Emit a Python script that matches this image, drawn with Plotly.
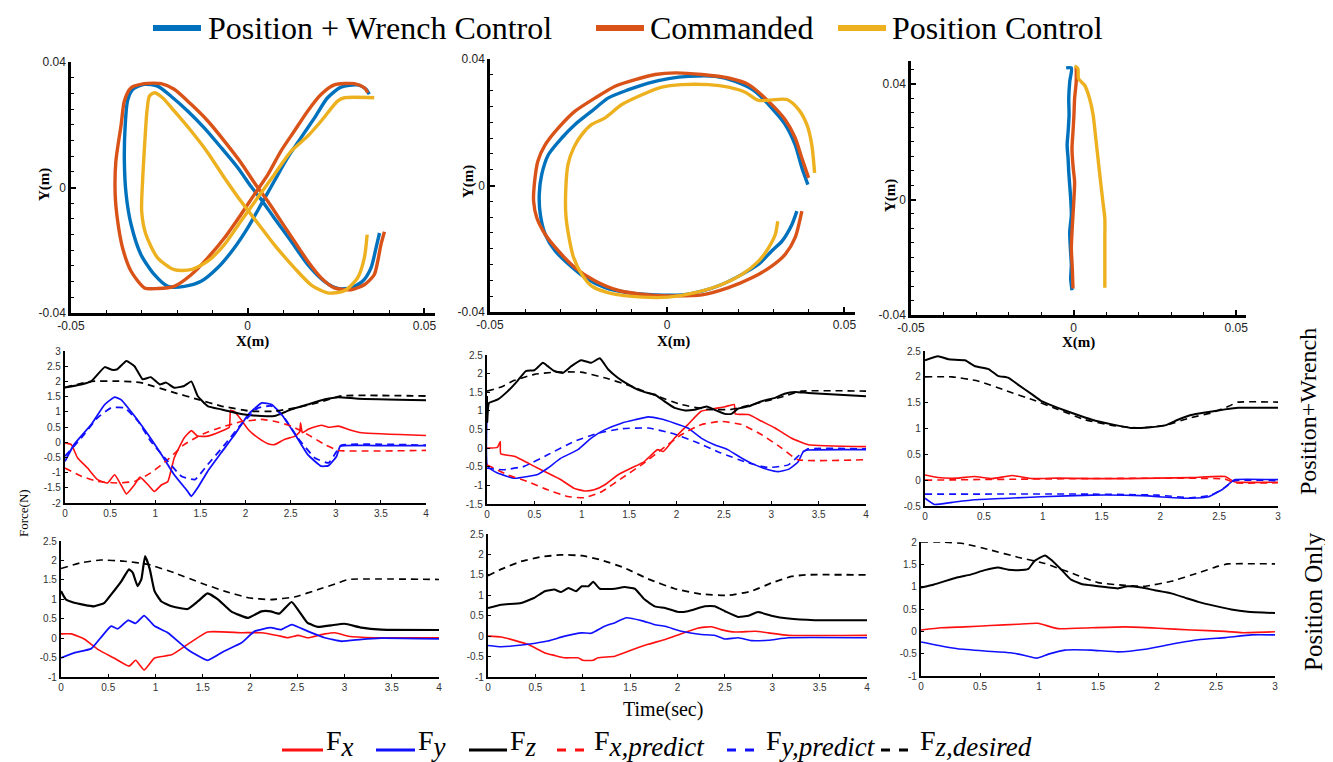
import plotly.graph_objects as go

# ---------------- Top row: trajectories (values in mm) ----------------
# Figure-eight
f8_wrench_x = [37.3, 36.3, 34.9, 32.5, 29.2, 25.5, 21.7, 17.0, 12.3, 7.5, 3.8, 0.9, -2.8, -7.5, -12.3, -17.0, -21.7, -25.5, -29.2, -32.5, -34.0, -34.7, -34.9, -34.4, -33.0, -30.2, -26.4, -22.6, -17.9, -13.2, -8.5, -3.8, 0.0, 3.8, 7.5, 11.3, 15.1, 18.9, 22.6, 26.4, 31.1, 33.5, 34.4]
f8_wrench_y = [-14.5, -19.3, -25.6, -29.9, -32.0, -32.2, -29.9, -24.6, -17.1, -9.7, -3.8, 0.4, 6.3, 12.7, 19.0, 24.4, 29.1, 32.3, 32.9, 31.3, 27.6, 19.0, 8.4, -2.2, -11.8, -21.4, -27.8, -31.5, -31.5, -29.9, -25.6, -19.3, -12.9, -5.4, 2.0, 9.5, 15.9, 22.2, 28.6, 32.0, 32.7, 31.3, 29.7]
f8_cmd_x = [38.7, 37.7, 36.8, 35.8, 33.0, 29.2, 24.5, 20.8, 17.0, 13.2, 9.4, 5.7, 1.9, -1.9, -6.6, -11.3, -16.0, -20.8, -24.5, -29.2, -33.0, -34.9, -35.8, -37.3, -37.5, -36.8, -35.4, -33.0, -29.2, -25.5, -20.8, -16.0, -11.3, -6.6, -1.9, 1.9, 5.7, 9.4, 13.2, 17.0, 20.8, 24.5, 30.2, 33.0, 34.0]
f8_cmd_y = [-14.1, -18.2, -23.5, -27.8, -31.0, -32.6, -32.0, -28.8, -23.5, -17.1, -10.7, -4.4, 1.5, 7.9, 14.8, 21.2, 26.5, 31.3, 33.1, 33.1, 31.8, 27.6, 20.1, 8.4, -2.2, -10.7, -19.3, -26.7, -32.0, -32.2, -31.5, -27.8, -22.4, -16.1, -8.6, -2.2, 4.1, 11.6, 18.0, 24.4, 29.7, 32.7, 33.1, 31.8, 30.2]
f8_pos_x = [33.8, 33.0, 31.1, 27.4, 22.6, 17.9, 13.2, 7.5, 2.8, -1.9, -6.6, -11.3, -16.0, -20.8, -24.1, -26.4, -27.8, -28.5, -29.1, -29.7, -30.0, -28.8, -25.5, -20.8, -16.0, -11.3, -6.6, -1.9, 2.8, 7.5, 12.3, 17.0, 20.8, 25.5, 27.4, 35.8]
f8_pos_y = [-15.0, -22.4, -28.8, -32.9, -33.6, -31.0, -25.6, -18.2, -11.3, -4.4, 3.1, 11.1, 18.0, 24.4, 28.6, 30.2, 29.1, 24.4, 14.8, 3.1, -7.6, -15.0, -22.4, -26.2, -26.2, -23.5, -18.2, -10.7, -3.3, 4.1, 11.6, 16.4, 21.2, 27.6, 28.6, 28.6]

# Circle
circ_wrench_x = [39.7, 38.0, 36.1, 33.3, 29.5, 24.8, 19.2, 13.5, 6.0, 0.4, -5.3, -10.9, -16.6, -21.3, -26.0, -29.7, -33.5, -35.4, -36.1, -35.8, -34.4, -31.6, -27.8, -23.1, -17.5, -10.9, -3.4, 4.1, 9.8, 15.4, 21.1, 25.8, 29.5, 32.4, 35.2, 36.6]
circ_wrench_y = [0.3, 5.6, 12.9, 19.3, 24.5, 29.8, 32.9, 34.5, 34.5, 33.8, 32.4, 30.3, 27.7, 23.5, 19.3, 15.1, 9.8, 3.5, -2.8, -9.2, -15.5, -20.7, -24.9, -29.2, -32.3, -33.9, -34.6, -34.6, -33.4, -31.3, -28.1, -24.9, -20.7, -17.6, -12.3, -8.1]
circ_cmd_x = [39.9, 38.0, 36.1, 33.3, 28.6, 23.0, 17.3, 9.8, 2.3, -3.4, -9.0, -14.7, -20.3, -26.0, -30.7, -34.4, -36.5, -37.4, -37.7, -36.8, -34.4, -30.7, -26.0, -20.3, -13.7, -5.3, 2.3, 9.8, 17.3, 23.9, 29.5, 33.3, 36.1, 38.0]
circ_cmd_y = [2.4, 8.7, 15.1, 20.8, 26.6, 31.9, 34.0, 35.1, 35.6, 35.1, 33.5, 31.4, 27.7, 23.5, 18.2, 12.9, 7.7, 1.4, -4.9, -10.2, -15.5, -20.7, -26.0, -30.2, -33.2, -34.6, -34.9, -34.6, -32.3, -29.2, -25.5, -21.8, -16.5, -8.1]
circ_pos_x = [41.6, 40.8, 39.4, 37.1, 33.8, 25.8, 22.0, 17.3, 11.7, 4.1, -1.5, -7.1, -12.8, -17.5, -21.3, -24.1, -26.4, -28.0, -28.6, -28.6, -27.7, -26.4, -24.1, -21.3, -15.6, -7.1, 0.4, 7.9, 15.4, 21.1, 25.8, 28.6, 30.5, 31.2]
circ_pos_y = [4.0, 12.9, 19.3, 24.0, 27.2, 26.9, 29.5, 31.1, 31.9, 31.9, 31.1, 28.7, 25.6, 21.4, 19.3, 16.1, 11.9, 6.6, -0.7, -9.2, -16.5, -22.8, -28.1, -31.8, -34.2, -35.3, -35.3, -33.9, -31.3, -28.1, -23.9, -19.7, -15.5, -11.3]

# Straight line
line_wrench_x = [-2.3, -0.7, -1.2, -1.5, -1.4, -1.7, -2.0, -1.7, -1.5, -1.2, -0.9, -0.7, -1.2, -1.0, -0.7, -0.9, -0.5]
line_wrench_y = [45.6, 45.6, 40.8, 35.0, 29.3, 23.4, 18.8, 14.2, 9.6, 4.9, 0.3, -5.4, -11.2, -17.0, -22.7, -27.4, -31.4]
line_cmd_x = [0.8, 0.8, 0.3, 0.1, -0.2, -0.5, -0.2, 0.3, 0.1, -0.2, -0.5, -0.7, -0.4, -0.2]
line_cmd_y = [45.9, 40.8, 35.0, 29.3, 23.4, 17.7, 11.8, 6.1, 0.3, -5.4, -11.2, -17.0, -23.9, -30.8]
line_pos_x = [0.3, 1.3, 1.5, 3.4, 4.9, 6.0, 6.7, 7.5, 8.3, 9.0, 9.6, 9.6, 9.6, 9.6, 9.6]
line_pos_y = [46.3, 45.4, 41.9, 39.6, 35.0, 29.3, 22.4, 14.2, 6.1, -0.8, -6.6, -13.5, -19.3, -26.2, -30.6]

traj_names = ["Position + Wrench Control", "Commanded", "Position Control"]

# ---------------- Middle row: Position+Wrench forces (N) ----------------
w8_t_fx = [0, 0.07, 0.14, 0.25, 0.36, 0.47, 0.55, 0.62, 0.68, 0.77, 0.83, 0.92, 0.99, 1.07, 1.14, 1.21, 1.32, 1.40, 1.47, 1.58, 1.73, 1.82, 1.835, 1.88, 1.95, 2.03, 2.14, 2.25, 2.32, 2.43, 2.55, 2.60, 2.61, 2.63, 2.69, 2.84, 2.92, 3.03, 3.14, 3.29, 4.0]
w8_fx = [-0.02, -0.08, -0.52, -0.85, -1.23, -1.34, -1.07, -1.40, -1.70, -1.40, -1.15, -1.40, -1.62, -1.40, -1.29, -0.52, 0.14, 0.38, 0.20, 0.20, 0.36, 0.49, 1.05, 1.00, 0.75, 0.42, 0.14, -0.05, -0.08, 0.09, 0.20, 0.34, 0.64, 0.31, 0.42, 0.56, 0.49, 0.53, 0.42, 0.31, 0.22]
w8_t_fy = [0, 0.1, 0.29, 0.44, 0.55, 0.62, 0.77, 0.92, 1.07, 1.21, 1.36, 1.40, 1.47, 1.58, 1.73, 1.88, 2.03, 2.18, 2.29, 2.40, 2.55, 2.69, 2.84, 2.92, 3.01, 3.05, 3.43, 4.0]
w8_fy = [-0.63, -0.08, 0.58, 1.24, 1.48, 1.40, 0.86, 0.25, -0.41, -1.07, -1.62, -1.78, -1.50, -0.96, -0.35, 0.25, 0.91, 1.29, 1.24, 0.91, 0.25, -0.41, -0.79, -0.77, -0.46, -0.13, -0.11, -0.11]
w8_t_fz = [0, 0.18, 0.29, 0.44, 0.52, 0.58, 0.68, 0.77, 0.86, 0.95, 1.05, 1.12, 1.21, 1.32, 1.40, 1.47, 1.58, 1.73, 1.95, 2.18, 2.32, 2.51, 2.69, 2.88, 3.03, 3.25, 4.0]
w8_fz = [1.80, 1.90, 2.00, 2.47, 2.38, 2.40, 2.67, 2.50, 2.07, 2.14, 1.90, 1.96, 1.79, 1.85, 2.00, 1.52, 1.19, 1.08, 0.93, 0.86, 0.86, 1.08, 1.24, 1.41, 1.48, 1.43, 1.38]
w8_t_fxp = [0, 0.18, 0.36, 0.58, 0.77, 0.95, 1.14, 1.32, 1.51, 1.73, 1.95, 2.18, 2.32, 2.51, 2.69, 2.88, 3.03, 4.0]
w8_fxp = [-0.85, -1.12, -1.29, -1.34, -1.29, -1.01, -0.57, -0.08, 0.25, 0.49, 0.67, 0.75, 0.69, 0.53, 0.25, -0.08, -0.27, -0.27]
w8_t_fyp = [0, 0.18, 0.36, 0.51, 0.66, 0.81, 0.95, 1.14, 1.29, 1.44, 1.58, 1.77, 1.95, 2.14, 2.29, 2.43, 2.58, 2.77, 2.92, 3.01, 3.06, 4.0]
w8_fyp = [-0.46, 0.14, 0.80, 1.13, 1.13, 0.69, 0.03, -0.63, -1.12, -1.23, -0.74, -0.08, 0.58, 1.13, 1.19, 0.80, 0.14, -0.52, -0.68, -0.30, -0.10, -0.10]
w8_t_fzd = [0, 0.29, 0.6, 0.84, 1.21, 1.47, 1.73, 2.06, 2.32, 2.55, 2.80, 3.06, 4.0]
w8_fzd = [1.80, 2.00, 2.01, 1.96, 1.63, 1.41, 1.19, 1.02, 1.02, 1.13, 1.30, 1.52, 1.52]

wc_t_fx = [0, 0.11, 0.14, 0.145, 0.29, 0.5, 0.64, 0.78, 0.92, 1.03, 1.13, 1.24, 1.38, 1.52, 1.66, 1.80, 1.86, 1.98, 2.12, 2.26, 2.40, 2.51, 2.61, 2.62, 2.76, 2.90, 3.04, 3.21, 3.39, 4.0]
wc_fx = [0.0, 0.02, 0.18, -0.15, -0.22, -0.49, -0.67, -0.85, -1.08, -1.15, -1.12, -0.99, -0.72, -0.54, -0.36, -0.04, -0.09, 0.27, 0.63, 0.99, 1.06, 1.11, 1.17, 0.92, 0.90, 0.72, 0.54, 0.27, 0.09, 0.04]
wc_t_fy = [0, 0.005, 0.11, 0.29, 0.43, 0.54, 0.64, 0.78, 0.96, 1.10, 1.24, 1.42, 1.56, 1.70, 1.84, 1.98, 2.12, 2.26, 2.40, 2.54, 2.69, 2.83, 2.97, 3.07, 3.18, 3.28, 3.34, 3.39, 4.0]
wc_fy = [0.90, -0.49, -0.67, -0.81, -0.76, -0.70, -0.54, -0.27, -0.04, 0.27, 0.49, 0.67, 0.76, 0.84, 0.78, 0.67, 0.54, 0.27, 0.09, -0.04, -0.27, -0.45, -0.58, -0.63, -0.57, -0.38, -0.09, -0.05, -0.04]
wc_t_fz = [0, 0.002, 0.02, 0.11, 0.22, 0.32, 0.41, 0.50, 0.59, 0.64, 0.71, 0.80, 0.89, 0.99, 1.10, 1.19, 1.28, 1.38, 1.49, 1.59, 1.70, 1.77, 1.87, 1.98, 2.09, 2.19, 2.32, 2.40, 2.51, 2.58, 2.65, 2.76, 2.90, 3.04, 3.14, 3.25, 3.39, 4.0]
wc_fz = [1.40, 0.70, 1.21, 1.30, 1.53, 1.80, 2.07, 2.09, 2.29, 2.20, 2.07, 2.02, 2.20, 2.36, 2.29, 2.41, 2.11, 1.89, 1.71, 1.57, 1.48, 1.44, 1.26, 1.08, 1.01, 1.03, 1.12, 1.03, 0.92, 0.92, 1.06, 1.12, 1.26, 1.35, 1.46, 1.51, 1.48, 1.39]
wc_t_fxp = [0, 0.22, 0.43, 0.64, 0.85, 1.03, 1.21, 1.42, 1.63, 1.84, 2.05, 2.26, 2.47, 2.69, 2.90, 3.11, 3.28, 4.0]
wc_fxp = [-0.45, -0.72, -0.90, -1.12, -1.30, -1.33, -1.17, -0.81, -0.45, -0.04, 0.36, 0.63, 0.72, 0.63, 0.36, 0.0, -0.31, -0.31]
wc_t_fyp = [0, 0.18, 0.39, 0.64, 0.92, 1.17, 1.42, 1.70, 1.95, 2.19, 2.47, 2.76, 2.97, 3.18, 3.32, 3.39, 4.0]
wc_fyp = [-0.54, -0.58, -0.49, -0.18, 0.18, 0.40, 0.52, 0.54, 0.40, 0.18, -0.13, -0.40, -0.52, -0.45, -0.13, -0.02, -0.02]
wc_t_fzd = [0, 0.15, 0.29, 0.50, 0.71, 0.99, 1.24, 1.49, 1.77, 2.05, 2.33, 2.58, 2.86, 3.11, 3.32, 4.0]
wc_fzd = [1.53, 1.64, 1.82, 1.98, 2.04, 2.04, 1.89, 1.69, 1.42, 1.17, 1.04, 1.04, 1.21, 1.37, 1.53, 1.53]

wl_t_fx = [0, 0.11, 0.28, 0.42, 0.57, 0.74, 0.91, 1.13, 1.42, 1.70, 1.98, 2.26, 2.55, 2.63, 3.0]
wl_fx = [0.10, 0.05, 0.04, 0.07, 0.03, 0.09, 0.03, 0.04, 0.03, 0.03, 0.04, 0.05, 0.07, -0.03, -0.04]
wl_t_fy = [0, 0.08, 0.23, 0.42, 0.71, 0.99, 1.42, 1.84, 2.12, 2.26, 2.41, 2.52, 2.60, 2.63, 3.0]
wl_fy = [-0.35, -0.47, -0.43, -0.38, -0.35, -0.32, -0.29, -0.30, -0.34, -0.35, -0.32, -0.19, -0.04, 0.01, 0.01]
wl_t_fz = [0, 0.11, 0.20, 0.34, 0.42, 0.54, 0.62, 0.71, 0.79, 0.91, 0.99, 1.13, 1.25, 1.42, 1.59, 1.75, 1.90, 2.04, 2.15, 2.26, 2.41, 2.55, 2.66, 3.0]
wl_fz = [2.32, 2.40, 2.34, 2.32, 2.21, 2.15, 2.02, 1.98, 1.85, 1.66, 1.53, 1.40, 1.30, 1.17, 1.08, 1.01, 1.02, 1.06, 1.17, 1.26, 1.32, 1.37, 1.40, 1.40]
wl_t_fxp = [0, 2.55, 2.63, 3.0]
wl_fxp = [0.0, 0.02, -0.05, -0.05]
wl_t_fyp = [0, 1.42, 1.98, 2.26, 2.43, 2.55, 2.63, 3.0]
wl_fyp = [-0.27, -0.27, -0.29, -0.34, -0.29, -0.14, -0.01, -0.01]
wl_t_fzd = [0, 0.23, 0.45, 0.68, 0.91, 1.13, 1.36, 1.59, 1.81, 2.04, 2.26, 2.43, 2.58, 2.66, 3.0]
wl_fzd = [2.0, 2.0, 1.92, 1.74, 1.56, 1.37, 1.17, 1.06, 1.01, 1.06, 1.21, 1.30, 1.43, 1.51, 1.51]

# ---------------- Bottom row: Position-only forces (N) ----------------
p8_t_fx = [0, 0.11, 0.25, 0.39, 0.56, 0.72, 0.79, 0.88, 0.99, 1.17, 1.34, 1.55, 1.91, 2.12, 2.29, 2.40, 2.51, 2.61, 2.79, 2.90, 3.04, 3.32, 4.0]
p8_fx = [0.11, 0.11, -0.03, -0.29, -0.51, -0.72, -0.57, -0.82, -0.51, -0.43, -0.16, 0.16, 0.14, 0.14, 0.07, 0.01, 0.07, 0.01, 0.11, 0.14, 0.05, 0.01, 0.01]
p8_t_fy = [0, 0.14, 0.32, 0.42, 0.53, 0.60, 0.71, 0.79, 0.88, 0.99, 1.13, 1.34, 1.55, 1.73, 1.91, 2.05, 2.22, 2.33, 2.44, 2.61, 2.79, 2.97, 3.18, 3.39, 4.0]
p8_fy = [-0.51, -0.38, -0.27, 0.01, 0.31, 0.24, 0.46, 0.38, 0.58, 0.31, 0.14, -0.29, -0.57, -0.33, -0.12, 0.18, 0.27, 0.22, 0.35, 0.18, 0.01, -0.08, -0.03, 0.0, -0.02]
p8_t_fz = [0, 0.05, 0.14, 0.35, 0.46, 0.53, 0.64, 0.72, 0.76, 0.81, 0.85, 0.89, 0.94, 0.99, 1.06, 1.17, 1.34, 1.45, 1.55, 1.66, 1.80, 1.98, 2.12, 2.22, 2.31, 2.44, 2.52, 2.61, 2.72, 2.86, 3.00, 3.18, 3.39, 4.0]
p8_fz = [1.21, 1.00, 0.91, 0.82, 0.91, 1.12, 1.47, 1.77, 1.68, 1.34, 1.51, 2.11, 1.77, 1.21, 0.95, 0.82, 0.75, 0.95, 1.15, 1.00, 0.69, 0.52, 0.69, 0.69, 0.63, 0.93, 0.69, 0.39, 0.29, 0.33, 0.37, 0.27, 0.22, 0.21]
p8_t_fzd = [0, 0.21, 0.42, 0.67, 0.92, 1.20, 1.48, 1.73, 1.98, 2.22, 2.47, 2.72, 2.93, 3.04, 4.0]
p8_fzd = [1.79, 1.94, 2.01, 1.98, 1.90, 1.68, 1.42, 1.21, 1.04, 0.99, 1.06, 1.25, 1.42, 1.51, 1.51]

pc_t_fx = [0, 0.14, 0.42, 0.60, 0.70, 0.81, 0.95, 1.00, 1.11, 1.16, 1.34, 1.48, 1.69, 1.87, 2.04, 2.22, 2.36, 2.46, 2.61, 2.82, 2.96, 3.17, 4.0]
pc_fx = [0.0, -0.02, -0.20, -0.41, -0.47, -0.53, -0.53, -0.59, -0.59, -0.53, -0.49, -0.37, -0.20, -0.08, 0.06, 0.20, 0.23, 0.16, 0.10, 0.12, 0.08, 0.02, 0.02]
pc_t_fy = [0, 0.14, 0.42, 0.63, 0.81, 0.99, 1.09, 1.23, 1.34, 1.46, 1.62, 1.76, 1.87, 2.04, 2.25, 2.39, 2.50, 2.64, 2.78, 2.96, 3.17, 4.0]
pc_fy = [-0.23, -0.26, -0.20, -0.12, 0.0, 0.08, 0.07, 0.24, 0.33, 0.45, 0.38, 0.28, 0.24, 0.12, 0.04, 0.02, -0.07, -0.04, -0.11, -0.10, -0.04, -0.04]
pc_t_fz = [0, 0.14, 0.35, 0.49, 0.60, 0.70, 0.77, 0.85, 0.93, 0.99, 1.06, 1.11, 1.18, 1.34, 1.44, 1.55, 1.65, 1.76, 1.87, 2.01, 2.11, 2.29, 2.39, 2.50, 2.64, 2.75, 2.85, 2.99, 3.17, 3.45, 4.0]
pc_fz = [0.69, 0.77, 0.81, 0.94, 1.10, 1.14, 1.08, 1.18, 1.10, 1.22, 1.22, 1.33, 1.16, 1.16, 1.20, 1.16, 0.90, 0.73, 0.69, 0.59, 0.61, 0.73, 0.73, 0.61, 0.47, 0.50, 0.59, 0.50, 0.43, 0.39, 0.39]
pc_t_fzd = [0, 0.14, 0.35, 0.56, 0.77, 0.99, 1.20, 1.44, 1.69, 1.97, 2.25, 2.54, 2.78, 2.99, 3.20, 3.35, 4.0]
pc_fzd = [1.48, 1.64, 1.83, 1.94, 1.99, 1.97, 1.86, 1.67, 1.40, 1.16, 1.03, 1.00, 1.10, 1.30, 1.46, 1.50, 1.50]

pl_t_fx = [0, 0.17, 0.37, 0.59, 0.82, 0.99, 1.16, 1.44, 1.73, 2.01, 2.29, 2.58, 2.72, 3.0]
pl_fx = [0.03, 0.08, 0.10, 0.13, 0.16, 0.18, 0.06, 0.08, 0.10, 0.07, 0.03, 0.0, -0.03, -0.01]
pl_t_fy = [0, 0.17, 0.31, 0.54, 0.76, 0.88, 0.98, 1.08, 1.22, 1.44, 1.67, 1.90, 2.12, 2.35, 2.58, 2.80, 3.0]
pl_fy = [-0.24, -0.33, -0.39, -0.44, -0.48, -0.54, -0.60, -0.51, -0.42, -0.42, -0.46, -0.40, -0.29, -0.19, -0.14, -0.08, -0.08]
pl_t_fz = [0, 0.11, 0.31, 0.42, 0.54, 0.65, 0.74, 0.82, 0.91, 0.96, 1.05, 1.10, 1.19, 1.27, 1.36, 1.44, 1.56, 1.67, 1.75, 1.87, 1.98, 2.12, 2.24, 2.35, 2.49, 2.63, 2.77, 3.0]
pl_fz = [0.98, 1.05, 1.21, 1.27, 1.37, 1.43, 1.38, 1.37, 1.40, 1.57, 1.70, 1.61, 1.38, 1.16, 1.06, 1.03, 0.99, 0.96, 1.01, 0.98, 0.92, 0.85, 0.75, 0.66, 0.57, 0.49, 0.44, 0.41]
pl_t_fzd = [0, 0.17, 0.37, 0.59, 0.82, 1.05, 1.27, 1.50, 1.73, 1.90, 2.12, 2.35, 2.52, 2.60, 3.0]
pl_fzd = [2.0, 2.0, 1.96, 1.82, 1.66, 1.52, 1.31, 1.09, 1.03, 1.01, 1.12, 1.31, 1.46, 1.51, 1.51]

force_subs = ["x", "y", "z", "x,predict", "y,predict", "z,desired"]

# ---------------- styling ----------------
W, H = 1333, 762
BLUE, ORANGE, YELLOW = "#0072BD", "#D95319", "#EDB120"
RF, BF, KF = "#FF1010", "#1010FF", "#000000"
SERIF = "Liberation Serif, Times New Roman, serif"
SANS = "Liberation Sans, Arial, sans-serif"

def mm(v):
    return [a / 1000.0 for a in v]

def fmt(v):
    return "%g" % v

fig = go.Figure()

top_panels = [
    (1, [(f8_wrench_x, f8_wrench_y, BLUE), (f8_cmd_x, f8_cmd_y, ORANGE), (f8_pos_x, f8_pos_y, YELLOW)],
     (63, 427, 54, 305), [-0.04, 0.04]),
    (2, [(circ_wrench_x, circ_wrench_y, BLUE), (circ_cmd_x, circ_cmd_y, ORANGE), (circ_pos_x, circ_pos_y, YELLOW)],
     (482, 847, 51, 304), [-0.04, 0.04]),
    (3, [(line_wrench_x, line_wrench_y, BLUE), (line_cmd_x, line_cmd_y, ORANGE), (line_pos_x, line_pos_y, YELLOW)],
     (903, 1238, 53, 307), [-0.04, 0.048]),
]

force_panels = [
    (4, [(w8_t_fx, w8_fx, RF, "solid", 1.6), (w8_t_fy, w8_fy, BF, "solid", 1.8), (w8_t_fz, w8_fz, KF, "solid", 2.0),
         (w8_t_fxp, w8_fxp, RF, "dash", 1.6), (w8_t_fyp, w8_fyp, BF, "dash", 1.8), (w8_t_fzd, w8_fzd, KF, "dash", 1.8)],
     (57, 418, 343, 495), [0, 4], [-2, 3]),
    (5, [(wc_t_fx, wc_fx, RF, "solid", 1.6), (wc_t_fy, wc_fy, BF, "solid", 1.6), (wc_t_fz, wc_fz, KF, "solid", 2.0),
         (wc_t_fxp, wc_fxp, RF, "dash", 1.6), (wc_t_fyp, wc_fyp, BF, "dash", 1.6), (wc_t_fzd, wc_fzd, KF, "dash", 1.6)],
     (479, 858, 347, 496), [0, 4], [-1.5, 2.5]),
    (6, [(wl_t_fx, wl_fx, RF, "solid", 1.6), (wl_t_fy, wl_fy, BF, "solid", 1.6), (wl_t_fz, wl_fz, KF, "solid", 2.0),
         (wl_t_fxp, wl_fxp, RF, "dash", 1.6), (wl_t_fyp, wl_fyp, BF, "dash", 1.6), (wl_t_fzd, wl_fzd, KF, "dash", 1.6)],
     (917, 1270, 343, 498), [0, 3], [-0.5, 2.5]),
    (7, [(p8_t_fx, p8_fx, RF, "solid", 1.6), (p8_t_fy, p8_fy, BF, "solid", 1.8), (p8_t_fz, p8_fz, KF, "solid", 2.2),
         (p8_t_fzd, p8_fzd, KF, "dash", 1.6)],
     (53, 431, 533, 669), [0, 4], [-1, 2.5]),
    (8, [(pc_t_fx, pc_fx, RF, "solid", 1.6), (pc_t_fy, pc_fy, BF, "solid", 1.6), (pc_t_fz, pc_fz, KF, "solid", 2.0),
         (pc_t_fzd, pc_fzd, KF, "dash", 1.8)],
     (480, 859, 526, 669), [0, 4], [-1, 2.5]),
    (9, [(pl_t_fx, pl_fx, RF, "solid", 1.6), (pl_t_fy, pl_fy, BF, "solid", 1.6), (pl_t_fz, pl_fz, KF, "solid", 2.0),
         (pl_t_fzd, pl_fzd, KF, "dash", 1.6)],
     (913, 1267, 534, 668), [0, 3], [-1, 2]),
]

def ax_names(i):
    return ("x" if i == 1 else "x%d" % i), ("y" if i == 1 else "y%d" % i), \
           ("xaxis" if i == 1 else "xaxis%d" % i), ("yaxis" if i == 1 else "yaxis%d" % i)

layout_axes = {}

for idx, series, (x0, x1, y0, y1), yr in top_panels:
    xa, ya, xk, yk = ax_names(idx)
    for xs, ys, col in series:
        fig.add_trace(go.Scatter(x=mm(xs), y=mm(ys), mode="lines", xaxis=xa, yaxis=ya,
                                 line=dict(color=col, width=3.4, shape="spline", smoothing=0.7),
                                 showlegend=False, hoverinfo="skip"))
    layout_axes[xk] = dict(domain=[x0 / W, x1 / W], range=[-0.05, 0.053], anchor=ya,
                           showline=True, linecolor="black", linewidth=2.5, showgrid=False, zeroline=False,
                           ticks="inside", ticklen=5, tickwidth=1.5, tickcolor="black",
                           tickmode="array", tickvals=[-0.05, 0, 0.05], ticktext=["-0.05", "0", "0.05"],
                           minor=dict(tickmode="array", tickvals=[k / 100.0 for k in range(-5, 6)],
                                      ticks="inside", ticklen=3, tickwidth=1.2, tickcolor="black"),
                           tickfont=dict(family=SANS, size=12, color="#222"))
    layout_axes[yk] = dict(domain=[1 - y1 / H, 1 - y0 / H], range=yr, anchor=xa,
                           showline=True, linecolor="black", linewidth=2.5, showgrid=False, zeroline=False,
                           ticks="inside", ticklen=5, tickwidth=1.5, tickcolor="black",
                           tickmode="array", tickvals=[-0.04, 0, 0.04], ticktext=["-0.04", "0", "0.04"],
                           minor=dict(tickmode="array", tickvals=[k / 200.0 for k in range(-8, 10)],
                                      ticks="inside", ticklen=3, tickwidth=1.2, tickcolor="black"),
                           tickfont=dict(family=SANS, size=12, color="#222"))

for idx, series, (x0, x1, y0, y1), xr, yr in force_panels:
    xa, ya, xk, yk = ax_names(idx)
    for ts, vs, col, dash, wdt in series:
        fig.add_trace(go.Scatter(x=ts, y=vs, mode="lines", xaxis=xa, yaxis=ya,
                                 line=dict(color=col, width=wdt, shape="spline", smoothing=0.4,
                                           dash=("7px,5px" if dash == "dash" else "solid")),
                                 showlegend=False, hoverinfo="skip"))
    xv = [k * 0.5 for k in range(int(xr[0] * 2), int(xr[1] * 2) + 1)]
    yv = [k * 0.5 for k in range(int(yr[0] * 2), int(yr[1] * 2) + 1)]
    common = dict(showline=True, linecolor="black", linewidth=2.2, showgrid=False, zeroline=False,
                  ticks="inside", ticklen=3, tickwidth=1.2, tickcolor="black",
                  tickfont=dict(family=SANS, size=10, color="#333"), tickmode="array")
    layout_axes[xk] = dict(domain=[x0 / W, x1 / W], range=xr, anchor=ya,
                           tickvals=xv, ticktext=[fmt(v) for v in xv], **common)
    layout_axes[yk] = dict(domain=[1 - y1 / H, 1 - y0 / H], range=yr, anchor=xa,
                           tickvals=yv, ticktext=[fmt(v) for v in yv], **common)

def ann(text, px, py, size, angle=0, bold=False, anchor="center", vanchor="middle"):
    t = "<b>%s</b>" % text if bold else text
    return dict(text=t, x=px / W, y=1 - py / H, xref="paper", yref="paper", showarrow=False,
                xanchor=anchor, yanchor=vanchor, textangle=angle,
                font=dict(family=SERIF, size=size, color="black"))

annotations = [
    ann("Y(m)", 36, 177, 15, -90, True), ann("Y(m)", 460, 174, 15, -90, True), ann("Y(m)", 883, 188, 15, -90, True),
    ann("X(m)", 244, 333, 15, 0, True), ann("X(m)", 665, 333, 15, 0, True), ann("X(m)", 1070, 334, 15, 0, True),
    ann("Force(N)", 15, 505, 13, -90), ann("Time(sec)", 655, 701, 20),
    ann("Position+Wrench", 1300, 404, 24, -90), ann("Position Only", 1305, 594, 25, -90),
]

shapes = []
# top legend (keys + labels), kept fully inside the figure
top_keys = [(145, 193, 198), (588, 636, 640), (830, 878, 882)]
for (k0, k1, tx), name, col in zip(top_keys, traj_names, [BLUE, ORANGE, YELLOW]):
    shapes.append(dict(type="line", xref="paper", yref="paper", x0=k0 / W, x1=k1 / W,
                       y0=1 - 20 / H, y1=1 - 20 / H, line=dict(color=col, width=6)))
    annotations.append(ann(name, tx, 0, 32, anchor="left", vanchor="top"))

# bottom legend
bot_keys = [(274, 315, 316), (368, 407, 408), (461, 499, 500), (549, 582, 584), (719, 754, 756), (873, 908, 910)]
for (k0, k1, tx), sub, col, dash in zip(bot_keys, force_subs, [RF, BF, KF, RF, BF, KF],
                                        ["solid", "solid", "solid", "dash", "dash", "dash"]):
    shapes.append(dict(type="line", xref="paper", yref="paper", x0=k0 / W, x1=k1 / W,
                       y0=1 - 742 / H, y1=1 - 742 / H, line=dict(color=col, width=3, dash=dash)))
    label = "F<sub><span style='font-size:27px'><i>%s</i></span></sub>" % sub
    annotations.append(ann(label, tx, 735, 28, anchor="left"))

fig.update_layout(
    width=W, height=H, margin=dict(l=0, r=0, t=0, b=0, autoexpand=False),
    paper_bgcolor="white", plot_bgcolor="white",
    annotations=annotations, shapes=shapes, showlegend=False,
    **layout_axes,
)

fig.write_html("out.html")
